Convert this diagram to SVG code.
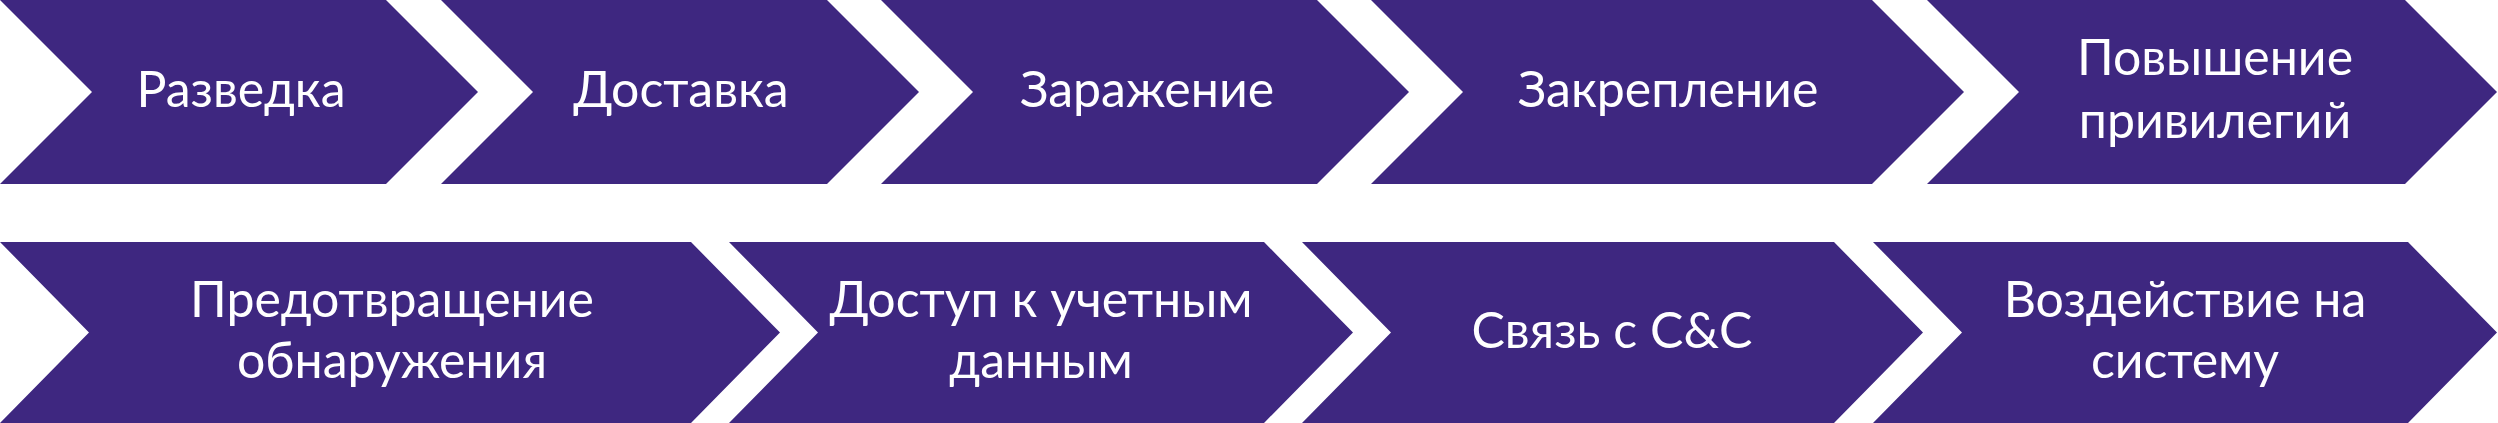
<svg xmlns="http://www.w3.org/2000/svg" width="2498" height="423" viewBox="0 0 2498 423">
<style>
.chev{fill:#3E2780;}
.lbl{fill:#FFFFFF;font-family:Lato,"Open Sans","Noto Sans",sans-serif;font-size:50px;text-anchor:middle;}
</style>
<rect x="0" y="0" width="2498" height="423" fill="#FFFFFF"/>
<g id="connectors"></g>
<g id="n1"><polygon class="chev" points="0,0 386,0 478,92 386,184 0,184 92,92"/><text class="lbl" x="241" y="107">Разведка</text></g>
<g id="n2"><polygon class="chev" points="441,0 827,0 919,92 827,184 441,184 533,92"/><text class="lbl" x="681" y="107">Доставка</text></g>
<g id="n3"><polygon class="chev" points="881,0 1317,0 1409,92 1317,184 881,184 973,92"/><text class="lbl" x="1147" y="107">Заражение</text></g>
<g id="n4"><polygon class="chev" points="1371,0 1872,0 1964,92 1872,184 1371,184 1463,92"/><text class="lbl" x="1668" y="107">Закрепление</text></g>
<g id="n5"><polygon class="chev" points="1927,0 2405,0 2497,92 2405,184 1927,184 2019,92"/><text class="lbl" x="2215" y="75">Повышение</text><text class="lbl" x="2215" y="138">привилегий</text></g>
<g id="n6"><polygon class="chev" points="0,242 691,242 780,332.5 691,423 0,423 89,332.5"/><text class="lbl" x="392" y="317">Предотвращение</text><text class="lbl" x="392" y="378">обнаружения</text></g>
<g id="n7"><polygon class="chev" points="729,242 1264,242 1353,332.5 1264,423 729,423 818,332.5"/><text class="lbl" x="1041" y="317">Доступ к учетным</text><text class="lbl" x="1041" y="378">данным</text></g>
<g id="n8"><polygon class="chev" points="1302,242 1834,242 1923,332.5 1834,423 1302,423 1391,332.5"/><text class="lbl" x="1612" y="348">Связь с C&amp;C</text></g>
<g id="n9"><polygon class="chev" points="1873,242 2408,242 2497,332.5 2408,423 1873,423 1962,332.5"/><text class="lbl" x="2185" y="317">Воздействие на</text><text class="lbl" x="2185" y="378">систему</text></g>
</svg>
